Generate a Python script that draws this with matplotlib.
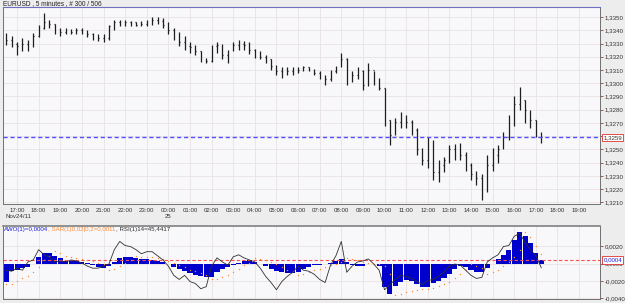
import matplotlib
matplotlib.use('Agg')
import matplotlib.pyplot as plt
import matplotlib.dates as mdates
import matplotlib.transforms as mtrans
import pandas as pd
from datetime import datetime

plt.rcParams['font.family'] = ['Liberation Sans', 'DejaVu Sans']
plt.rcParams['axes.unicode_minus'] = False

# 15 minute bars, EURUSD, Nov 24 16:30 -> Nov 25 17:15
bar_times = pd.date_range('2011-11-24 16:30', periods=100, freq='15min')

first_open = 1.3335
highs = [1.3338, 1.3336, 1.3331, 1.3334, 1.3333, 1.3338, 1.3344, 1.3353, 1.3348, 1.3345,
         1.3342, 1.3342, 1.3341, 1.3342, 1.3342, 1.3340, 1.3338, 1.3337, 1.3337, 1.3344,
         1.3348, 1.3348, 1.3348, 1.3347, 1.3346, 1.3347, 1.3348, 1.3350, 1.3350, 1.3349,
         1.3346, 1.3342, 1.3339, 1.3336, 1.3331, 1.3329, 1.3324, 1.3319, 1.3329, 1.3331,
         1.3330, 1.3325, 1.3331, 1.3333, 1.3332, 1.3331, 1.3326, 1.3324, 1.3321, 1.3318,
         1.3314, 1.3312, 1.3312, 1.3312, 1.3312, 1.3313, 1.3312, 1.3311, 1.3309, 1.3306,
         1.3310, 1.3313, 1.3323, 1.3319, 1.3309, 1.3312, 1.3310, 1.3315, 1.3309, 1.3304,
         1.3296, 1.3272, 1.3274, 1.3278, 1.3276, 1.3272, 1.3266, 1.3251, 1.3259, 1.3257,
         1.3242, 1.3244, 1.3253, 1.3254, 1.3255, 1.3248, 1.3240, 1.3234, 1.3231, 1.3246,
         1.3251, 1.3253, 1.3263, 1.3276, 1.3290, 1.3297, 1.3287, 1.3280, 1.3272, 1.3263]
lows = [1.3329, 1.3327, 1.3321, 1.3324, 1.3324, 1.3327, 1.3335, 1.3341, 1.3342, 1.3337,
        1.3336, 1.3337, 1.3337, 1.3337, 1.3337, 1.3335, 1.3333, 1.3332, 1.3331, 1.3333,
        1.3340, 1.3343, 1.3343, 1.3343, 1.3343, 1.3343, 1.3343, 1.3344, 1.3345, 1.3342,
        1.3337, 1.3333, 1.3328, 1.3325, 1.3323, 1.3321, 1.3316, 1.3315, 1.3316, 1.3323,
        1.3318, 1.3315, 1.3324, 1.3325, 1.3325, 1.3322, 1.3319, 1.3318, 1.3315, 1.3310,
        1.3306, 1.3304, 1.3306, 1.3306, 1.3308, 1.3309, 1.3309, 1.3306, 1.3303, 1.3299,
        1.3302, 1.3308, 1.3312, 1.3299, 1.3301, 1.3303, 1.3295, 1.3298, 1.3299, 1.3295,
        1.3268, 1.3253, 1.3261, 1.3266, 1.3266, 1.3261, 1.3246, 1.3238, 1.3236, 1.3227,
        1.3225, 1.3233, 1.3240, 1.3242, 1.3242, 1.3234, 1.3227, 1.3223, 1.3212, 1.3218,
        1.3234, 1.3240, 1.3250, 1.3257, 1.3268, 1.3280, 1.3270, 1.3266, 1.3259, 1.3255]
closes = [1.3333, 1.3330, 1.3328, 1.3330, 1.3328, 1.3336, 1.3342, 1.3346, 1.3345, 1.3339,
          1.3339, 1.3340, 1.3339, 1.3340, 1.3340, 1.3337, 1.3336, 1.3334, 1.3334, 1.3343,
          1.3346, 1.3346, 1.3346, 1.3346, 1.3344, 1.3345, 1.3346, 1.3348, 1.3347, 1.3344,
          1.3340, 1.3336, 1.3331, 1.3328, 1.3327, 1.3324, 1.3318, 1.3317, 1.3328, 1.3329,
          1.3321, 1.3324, 1.3329, 1.3330, 1.3329, 1.3325, 1.3321, 1.3320, 1.3318, 1.3313,
          1.3309, 1.3309, 1.3309, 1.3309, 1.3310, 1.3312, 1.3311, 1.3308, 1.3306, 1.3303,
          1.3309, 1.3312, 1.3318, 1.3303, 1.3306, 1.3309, 1.3299, 1.3310, 1.3303, 1.3296,
          1.3272, 1.3261, 1.3271, 1.3274, 1.3271, 1.3265, 1.3250, 1.3242, 1.3256, 1.3233,
          1.3238, 1.3242, 1.3250, 1.3248, 1.3246, 1.3238, 1.3231, 1.3228, 1.3219, 1.3238,
          1.3246, 1.3250, 1.3259, 1.3271, 1.3284, 1.3287, 1.3280, 1.3272, 1.3263, 1.3259]

# indicator panel (AO histogram, SAR of AO, RSI 14)
ao = [-0.0021, -0.0009, -0.0007, -0.0005, -0.0004, -0.0001, 0.0007, 0.0012, 0.0012, 0.0009,
      0.0006, 0.0003, 0.0003, 0.0003, 0.0002, 0.0001, -0.0002, -0.0004, -0.0005, -0.0003,
      0.0002, 0.0006, 0.0007, 0.0007, 0.0006, 0.0005, 0.0005, 0.0004, 0.0003, 0.0002,
      -0.0001, -0.0004, -0.0006, -0.0009, -0.0011, -0.0013, -0.0014, -0.0016, -0.0015, -0.0010,
      -0.0006, -0.0004, -0.0002, 0.0001, 0.0003, 0.0004, 0.0002, -0.0001, -0.0003, -0.0006,
      -0.0009, -0.0010, -0.0011, -0.0011, -0.0010, -0.0006, -0.0004, -0.0002, -0.0002, -0.0001,
      0.0001, 0.0003, 0.0005, 0.0002, -0.0002, -0.0003, -0.0003, -0.0001, -0.0001, -0.0003,
      -0.0027, -0.0035, -0.0026, -0.0021, -0.0019, -0.0020, -0.0023, -0.0027, -0.0027, -0.0022,
      -0.0020, -0.0017, -0.0012, -0.0006, -0.0003, -0.0004, -0.0007, -0.0010, -0.0010, -0.0005,
      -0.0001, 0.0005, 0.0010, 0.0015, 0.0027, 0.0036, 0.0031, 0.0023, 0.0012, 0.0004]
sar = [-0.0024, -0.0023, -0.0020, -0.0017, -0.0014, -0.0010, -0.0004, 0.0004, 0.0009, 0.0014,
       0.0012, 0.0009, 0.0007, 0.0006, 0.0005, 0.0004, 0.0003, 0.0001, -0.0001, -0.0007,
       -0.0006, -0.0003, 0.0001, 0.0004, 0.0009, 0.0008, 0.0008, 0.0007, 0.0006, 0.0005,
       0.0003, 0.0001, -0.0002, -0.0004, -0.0007, -0.0009, -0.0011, -0.0013, -0.0018, -0.0018,
       -0.0016, -0.0013, -0.0010, -0.0006, -0.0002, 0.0001, 0.0006, 0.0005, 0.0004, 0.0002,
       -0.0001, -0.0004, -0.0007, -0.0009, -0.0013, -0.0012, -0.0010, -0.0008, -0.0006, -0.0004,
       -0.0002, 0.0000, 0.0002, 0.0006, 0.0005, 0.0004, 0.0002, 0.0001, 0.0000, 0.0000,
       -0.0003, -0.0012, -0.0036, -0.0035, -0.0033, -0.0031, -0.0030, -0.0029, -0.0029, -0.0028,
       -0.0026, -0.0024, -0.0021, -0.0017, -0.0012, -0.0008, -0.0001, -0.0003, -0.0005, -0.0012,
       -0.0010, -0.0007, -0.0003, 0.0002, 0.0008, 0.0016, 0.0036, 0.0030, 0.0020, 0.0011]
rsi = [43, 42, 45, 43, 51, 53, 63, 58, 56, 51,
       52, 51, 53, 52, 50, 47, 45, 45, 47, 49,
       63, 71, 67, 66, 63, 59, 61, 61, 57, 53,
       47, 38, 34, 38, 32, 30, 25, 27, 47, 55,
       51, 48, 56, 58, 55, 53, 51, 45, 37, 31,
       24, 32, 37, 41, 47, 43, 42, 39, 34, 31,
       48, 57, 71, 41, 47, 51, 52, 54, 49, 43,
       24, 29, 34, 38, 37, 35, 32, 29, 33, 34,
       37, 41, 47, 49, 48, 43, 38, 35, 36, 51,
       55, 58, 66, 67, 76, 79, 70, 63, 57, 45.4417]

last_price = 1.3259
ao_last = 0.0004
sar_last = 0.0011
rsi_last = 45.4417
price_ticks = [1.3210, 1.3220, 1.3230, 1.3240, 1.3250, 1.3260, 1.3270, 1.3280,
               1.3290, 1.3300, 1.3310, 1.3320, 1.3330, 1.3340, 1.3350]
ao_ticks = [0.0020, 0.0000, -0.0020, -0.0040]

W, H = 625, 303
FS = 4.4
fig = plt.figure(figsize=(W / 100, H / 100), dpi=100, facecolor='#EDEDED')


def px_box(x0, y0, x1, y1):
    return [x0 / W, 1 - y1 / H, (x1 - x0) / W, (y1 - y0) / H]


def comma(v):
    return f'{v:.4f}'.replace('.', ',')


ax = fig.add_axes(px_box(3, 7, 600, 204))
ax2 = fig.add_axes(px_box(3, 226, 600, 299))
ax3 = ax2.twinx()

t = mdates.date2num(bar_times.to_pydatetime())
opens = [first_open] + closes[:-1]
tick = 1.6 / 1440  # open / close tick length (days)

BAR = '#1E1E1E'
ax.vlines(t, lows, highs, color=BAR, lw=0.9)
ax.hlines(opens, t - tick, t, color=BAR, lw=0.9)
ax.hlines(closes, t, t + tick, color=BAR, lw=0.9)

x0 = mdates.date2num(datetime(2011, 11, 24, 16, 21))
x1 = mdates.date2num(datetime(2011, 11, 25, 19, 58))
for a in (ax, ax2):
    a.set_xlim(x0, x1)
    a.set_facecolor('#F8F8FB')
    a.xaxis.set_major_locator(mdates.HourLocator())
    a.grid(True, color='#E9E2E2', lw=0.6)
    a.set_axisbelow(True)
    a.yaxis.set_ticks_position('right')
    a.yaxis.set_label_position('right')
    a.tick_params(axis='y', labelsize=FS, length=2.5, width=0.6, color='#B03030',
                  labelcolor='#333333', pad=0.8, left=False, labelleft=False,
                  right=True, labelright=True)
    for s in ('left', 'right', 'bottom'):
        a.spines[s].set_color('#707070')
        a.spines[s].set_linewidth(0.7)

ax.spines['top'].set_color('#7070C0')
ax2.spines['top'].set_color('#808080')
ax2.spines['top'].set_linewidth(1.2)

ax.set_ylim(1.32087, 1.33576)
ax.set_yticks(price_ticks)
ax.set_yticklabels([comma(v) for v in price_ticks])
ax.xaxis.set_major_formatter(mdates.DateFormatter('%H:%M'))
ax.tick_params(axis='x', labelsize=FS, length=0, pad=3, labelcolor='#333333')

# current price line and box
ax.axhline(last_price, color='#5050FF', lw=1.0, ls=(0, (3, 2)), zorder=3)
tr = mtrans.blended_transform_factory(ax.transAxes, ax.transData)
ax.text(1.006, last_price, comma(last_price), transform=tr,
        fontsize=FS, va='center', ha='left', color='#333333',
        bbox=dict(fc='white', ec='#E03030', lw=0.6, pad=0.8))

fig.text(3 / W, 1 - 4 / H, 'EURUSD , 5 minutes , # 300 / 506', fontsize=4.7,
         va='center', ha='left', color='#222222')
fig.text(5 / W, 1 - 217 / H, 'Nov24/11', fontsize=FS, va='center', ha='left', color='#333333')
x25 = ax.transData.transform((mdates.date2num(datetime(2011, 11, 25, 0, 0)), 0))[0]
fig.text(x25 / W, 1 - 217 / H, '25', fontsize=FS, va='center', ha='center', color='#333333')

# lower panel
ax2.bar(t, ao, width=14 / 1440, color='#0000CC', lw=0)
ax2.scatter(t, sar, s=1.0, color='#FF8A30', lw=0, zorder=3)
ax2.set_ylim(-0.00406, 0.00429)
ax2.set_yticks(ao_ticks)
ax2.set_yticklabels([comma(v) for v in ao_ticks])
ax2.tick_params(axis='x', labelbottom=False, length=0)
ax2.axhline(ao_last, color='#FF5050', lw=0.8, ls=(0, (3, 2)))
tr2 = mtrans.blended_transform_factory(ax2.transAxes, ax2.transData)
ax2.text(1.006, ao_last, comma(ao_last), transform=tr2,
         fontsize=FS, va='center', ha='left', color='#2020D0', zorder=6,
         bbox=dict(fc='white', ec='#E03030', lw=0.6, pad=0.8))

ax3.plot(t, rsi, color='#303030', lw=0.6)
ax3.set_ylim(15, 86)
ax3.set_yticks([])
ax3.set_xlim(x0, x1)
for s in ax3.spines.values():
    s.set_visible(False)

t1 = ax3.text(0.002, 0.985, f'AWO(1)={comma(ao_last)}', transform=ax3.transAxes,
              fontsize=FS, va='top', ha='left', color='#2020D0', zorder=5)
t2 = ax3.annotate(f', SAR(1)0,02|0,2={comma(sar_last)}', xy=(1, 0),
                  xycoords=t1, va='bottom', ha='left', fontsize=FS, color='#FF8A30')
t3 = ax3.annotate(f', RSI(1)14={comma(rsi_last)}', xy=(1, 0),
                  xycoords=t2, va='bottom', ha='left', fontsize=FS, color='#303030')

fig.savefig('out.png', dpi=100, facecolor=fig.get_facecolor())
